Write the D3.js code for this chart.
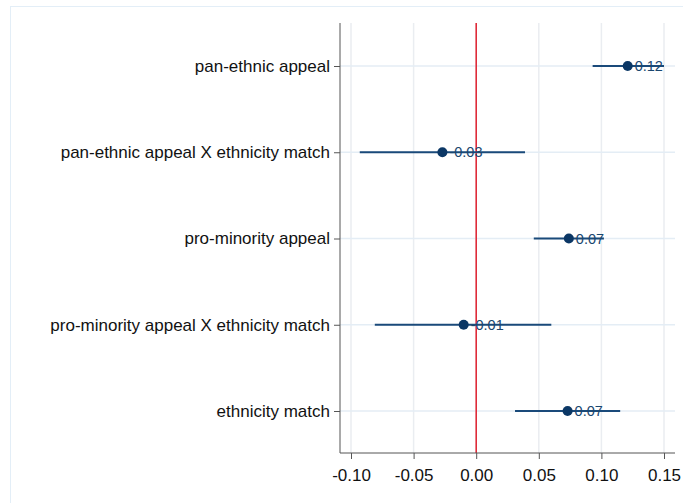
<!DOCTYPE html>
<html>
<head>
<meta charset="utf-8">
<script src="https://cdn.jsdelivr.net/npm/d3@7"></script>
<style>
  body { margin: 0; background: #fff; }
  text { font-family: "Liberation Sans", Arial, sans-serif; }
</style>
</head>
<body>
<div id="chart"></div>
<script>
// coefficient estimates with confidence intervals
const terms = ["pan-ethnic appeal", "pan-ethnic appeal X ethnicity match", "pro-minority appeal",
               "pro-minority appeal X ethnicity match", "ethnicity match"];
const estimates = [0.121, -0.027, 0.074, -0.010, 0.073];
const lower = [0.093, -0.093, 0.046, -0.081, 0.031];
const upper = [0.150, 0.039, 0.102, 0.060, 0.115];
const labels = ["0.12", "-0.03", "0.07", "-0.01", "0.07"];
const xTicks = [-0.10, -0.05, 0.00, 0.05, 0.10, 0.15];

const width = 683, height = 503;
const margin = { top: 23, right: 8, bottom: 50, left: 340 };

const svg = d3.select("#chart").append("svg")
    .attr("width", width)
    .attr("height", height);

// outer frame
svg.append("rect")
    .attr("x", 10.5).attr("y", 6.5)
    .attr("width", width + 20).attr("height", height + 20)
    .attr("fill", "none")
    .attr("stroke", "#e3eef7");

const x = d3.scaleLinear().domain([-0.1, 0.15]).range([351, 664]);
const y = d3.scalePoint().domain(terms).range([66, 411]);

const plotRight = 675, plotBottom = 453;

// vertical grid
svg.append("g").selectAll("line")
    .data(xTicks)
    .enter().append("line")
    .attr("x1", d => x(d)).attr("x2", d => x(d))
    .attr("y1", margin.top).attr("y2", plotBottom)
    .attr("stroke", "#eaedf1")
    .attr("stroke-width", 1.5);

// horizontal grid
svg.append("g").selectAll("line")
    .data(terms)
    .enter().append("line")
    .attr("x1", margin.left).attr("x2", plotRight)
    .attr("y1", d => y(d)).attr("y2", d => y(d))
    .attr("stroke", "#e4edf5")
    .attr("stroke-width", 1.5);

// reference line at zero
svg.append("line")
    .attr("x1", x(0)).attr("x2", x(0))
    .attr("y1", margin.top).attr("y2", plotBottom)
    .attr("stroke", "#e0202f")
    .attr("stroke-width", 1.5);

// x axis
const xAxis = svg.append("g")
    .attr("transform", "translate(0," + plotBottom + ")")
    .call(d3.axisBottom(x).tickValues(xTicks).tickFormat(d3.format(".2f")).tickSize(6).tickPadding(10));
xAxis.select(".domain").attr("d", "M" + margin.left + ",0H" + plotRight).attr("stroke", "#555");
xAxis.selectAll(".tick line").attr("stroke", "#555");
xAxis.selectAll("text").attr("font-size", 17).attr("fill", "#111")
    .text(d => d3.format(".2f")(d).replace("−", "-"));

// y axis
const yAxis = svg.append("g")
    .attr("transform", "translate(" + margin.left + ",0)")
    .call(d3.axisLeft(y).tickSize(6).tickPadding(4));
yAxis.select(".domain").attr("d", "M0," + margin.top + "V" + plotBottom).attr("stroke", "#555");
yAxis.selectAll(".tick line").attr("stroke", "#555");
yAxis.selectAll("text").attr("font-size", 17).attr("fill", "#111");

const rows = terms.map((t, i) => ({ term: t, est: estimates[i], lo: lower[i], hi: upper[i], label: labels[i] }));

// confidence intervals
svg.append("g").selectAll("line")
    .data(rows)
    .enter().append("line")
    .attr("x1", d => x(d.lo)).attr("x2", d => x(d.hi))
    .attr("y1", d => y(d.term)).attr("y2", d => y(d.term))
    .attr("stroke", "#1a4a7a")
    .attr("stroke-width", 2);

// point estimates
svg.append("g").selectAll("circle")
    .data(rows)
    .enter().append("circle")
    .attr("cx", d => x(d.est))
    .attr("cy", d => y(d.term))
    .attr("r", 5)
    .attr("fill", "#0b3765");

// value labels
svg.append("g").selectAll("text")
    .data(rows)
    .enter().append("text")
    .attr("x", d => x(d.est) + 7)
    .attr("y", d => y(d.term))
    .attr("dy", "0.36em")
    .attr("font-size", 14.5)
    .attr("fill", "#1a476f")
    .text(d => d.label);
</script>
</body>
</html>
